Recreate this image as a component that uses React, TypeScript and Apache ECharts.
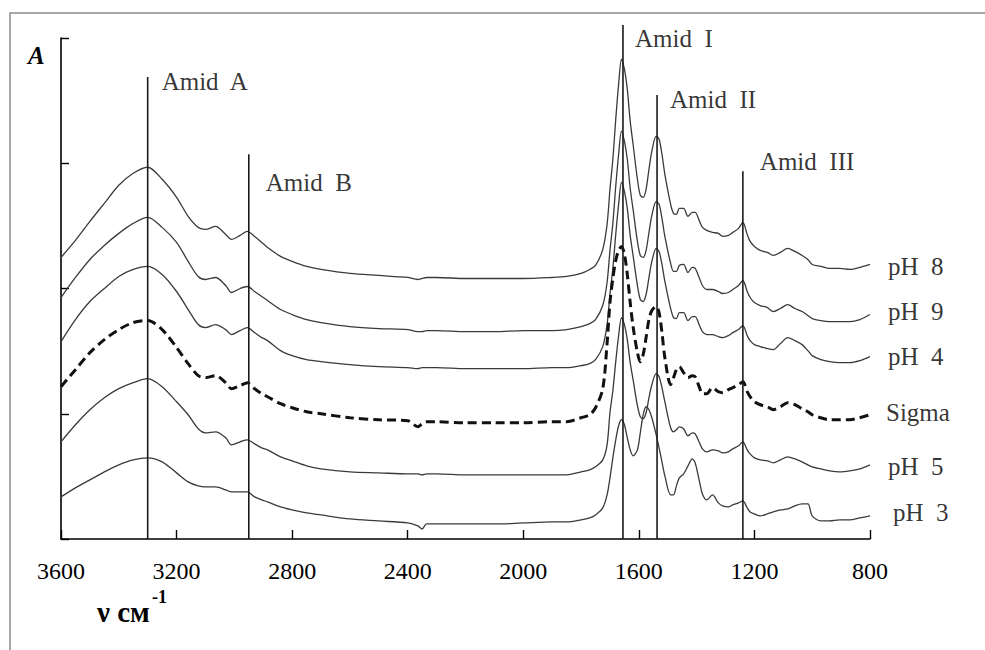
import React, { useEffect, useRef } from 'react';
import * as echarts from 'echarts';

// Wavenumber grid, cm-1
const wavenumbers = [
  3600, 3550, 3500, 3450, 3400, 3350, 3300, 3250, 3200, 3160,
  3125, 3100, 3065, 3030, 3010, 2980, 2955, 2930, 2905, 2885,
  2840, 2800, 2750, 2700, 2600, 2500, 2400, 2365, 2350, 2335,
  2300, 2200, 2100, 2000, 1900, 1850, 1800, 1770, 1750, 1725,
  1710, 1700, 1690, 1680, 1670, 1660, 1650, 1640, 1630, 1620,
  1605, 1595, 1585, 1575, 1565, 1555, 1540, 1530, 1520, 1510,
  1490, 1480, 1470, 1460, 1445, 1430, 1415, 1405, 1390, 1380,
  1365, 1345, 1325, 1310, 1290, 1275, 1255, 1240, 1225, 1215,
  1200, 1180, 1155, 1135, 1110, 1085, 1060, 1035, 1015, 1000,
  970, 940, 905, 870, 835, 800,
];

// Absorbance (arbitrary offset units) for each spectrum
const ph8 = [
  281, 298, 317, 335, 353, 365, 371, 359, 341, 322,
  311, 309, 312, 304, 299, 303, 307, 302, 296, 291,
  282, 277, 272, 269, 265, 263, 261, 259, 260, 261,
  261, 260, 260, 260, 261, 262, 265, 269, 273, 289,
  314, 349, 379, 419, 454, 479, 469, 449, 417, 394,
  359, 343, 341, 349, 369, 387, 402, 399, 384, 364,
  334, 325, 324, 330, 330, 322, 326, 326, 317, 311,
  308, 306, 305, 302, 303, 306, 310, 316, 304, 297,
  292, 288, 286, 283, 286, 290, 287, 283, 279, 274,
  272, 270, 270, 269, 271, 274,
];
const ph9 = [
  241, 261, 279, 293, 305, 315, 321, 311, 296, 277,
  262, 259, 261, 253, 246, 250, 252, 247, 242, 238,
  229, 224, 219, 216, 212, 210, 209, 207, 207, 208,
  208, 207, 207, 208, 208, 209, 212, 215, 219, 233,
  256, 288, 315, 352, 384, 407, 397, 379, 350, 329,
  297, 283, 281, 288, 306, 323, 337, 334, 320, 302,
  275, 267, 267, 273, 274, 266, 271, 270, 260, 253,
  249, 249, 247, 245, 246, 249, 253, 258, 247, 241,
  236, 233, 231, 227, 230, 234, 230, 227, 223, 220,
  218, 217, 217, 217, 219, 224,
];
const ph4 = [
  197, 219, 237, 250, 262, 269, 272, 264, 247, 229,
  214, 211, 214, 209, 204, 208, 211, 206, 201, 198,
  188, 183, 179, 177, 174, 172, 171, 170, 171, 171,
  171, 170, 170, 170, 171, 171, 173, 175, 179, 192,
  214, 244, 270, 304, 334, 356, 347, 330, 303, 283,
  253, 239, 237, 244, 261, 277, 290, 287, 274, 257,
  230, 221, 220, 226, 226, 218, 222, 222, 213, 207,
  204, 204, 202, 201, 203, 206, 209, 213, 203, 198,
  194, 192, 190, 189, 195, 201, 198, 194, 188, 183,
  179, 177, 176, 176, 178, 182,
];
const sigma = [
  152, 169, 186, 199, 209, 216, 218, 209, 191, 175,
  163, 161, 163, 156, 150, 153, 156, 150, 145, 142,
  135, 131, 127, 125, 121, 119, 118, 112, 115, 117,
  117, 116, 116, 116, 117, 117, 121, 124, 131, 150,
  195, 236, 260, 278, 288, 292, 284, 264, 236, 212,
  186, 177, 184, 201, 219, 228, 232, 226, 206, 181,
  154, 161, 169, 172, 166, 161, 163, 162, 151, 145,
  145, 151, 147, 146, 149, 151, 154, 157, 147, 142,
  137, 134, 132, 129, 132, 136, 134, 130, 127, 124,
  121, 119, 119, 119, 121, 124,
];
const ph5 = [
  97, 114, 129, 141, 150, 156, 160, 152, 137, 124,
  110, 106, 107, 101, 94, 97, 99, 95, 91, 89,
  82, 78, 73, 70, 67, 66, 65, 65, 64, 65,
  65, 64, 64, 64, 64, 64, 67, 69, 72, 79,
  94, 126, 148, 177, 203, 221, 214, 199, 176, 159,
  133, 122, 120, 126, 141, 154, 165, 162, 151, 137,
  111, 107, 109, 112, 110, 103, 106, 105, 96, 90,
  87, 89, 88, 86, 87, 90, 93, 97, 89, 85,
  81, 79, 78, 76, 79, 82, 80, 77, 74, 72,
  70, 68, 67, 68, 70, 74,
];
const ph3 = [
  42, 51, 59, 67, 74, 79, 81, 77, 66, 57,
  53, 52, 52, 49, 47, 47, 47, 42, 39, 37,
  32, 29, 26, 24, 20, 18, 16, 13, 10, 15,
  15, 15, 15, 16, 17, 17, 19, 21, 24, 31,
  44, 61, 81, 99, 113, 119, 114, 101, 89, 83,
  89, 106, 124, 132, 129, 121, 104, 91, 77, 63,
  44, 44, 53, 61, 65, 73, 80, 76, 57, 45,
  39, 44, 36, 33, 32, 34, 36, 38, 31, 27,
  25, 23, 25, 27, 29, 30, 33, 35, 35, 23,
  18, 18, 19, 19, 21, 23,
];

const spectrumNames = ['pH  8', 'pH  9', 'pH  4', 'Sigma', 'pH  5', 'pH  3'];
const spectrumValues = [ph8, ph9, ph4, sigma, ph5, ph3];

// Band markers
const markerNames = ['Amid  A', 'Amid  B', 'Amid  I', 'Amid  II', 'Amid  III'];
const markerWavenumbers = [3300, 2950, 1655, 1537, 1240];
const markerHeights = [461, 384, 513, 443, 367];

const xTicks = [3600, 3200, 2800, 2400, 2000, 1600, 1200, 800];

const FONT = "'Liberation Serif', 'Times New Roman', serif";

export default function App() {
  const ref = useRef<HTMLDivElement>(null);

  useEffect(() => {
    if (!ref.current) return;
    const chart = echarts.init(ref.current, null, { renderer: 'svg' });

    const markerLabelOffsets: [number, number][] = [
      [14, 4], [17, 28], [12, 14], [13, 4], [17, -10],
    ];
    const endLabelOffsets: [number, number][] = [
      [0, 2], [0, -3], [0, 0], [-2, -2], [0, 2], [5, -3],
    ];

    const spectra = spectrumNames.map((name, s) => ({
      type: 'line',
      name,
      data: wavenumbers.map((w, i) => [w, spectrumValues[s][i]]),
      symbol: 'none',
      showSymbol: false,
      smooth: 0.3,
      silent: true,
      z: 3,
      lineStyle:
        name === 'Sigma'
          ? { color: '#111', width: 3, type: [9, 5] }
          : { color: '#3a3a3a', width: 1.3 },
    }));

    const spectrumLabels = {
      type: 'scatter',
      data: spectrumNames.map((name, s) => {
        const vals = spectrumValues[s];
        return {
          value: [wavenumbers[wavenumbers.length - 1], vals[vals.length - 1]],
          label: {
            show: true,
            position: 'right',
            distance: 18,
            offset: endLabelOffsets[s],
            formatter: name,
            color: '#000',
            fontSize: 25,
            fontFamily: FONT,
          },
        };
      }),
      symbolSize: 0,
      clip: false,
      silent: true,
      z: 5,
    };

    const markers = markerNames.map((name, m) => ({
      type: 'line',
      name,
      data: [
        [markerWavenumbers[m], 0],
        [markerWavenumbers[m], markerHeights[m]],
      ],
      symbol: 'none',
      clip: false,
      silent: true,
      z: 4,
      lineStyle: { color: '#1a1a1a', width: 1.6 },
    }));

    const markerLabels = {
      type: 'scatter',
      data: markerNames.map((name, m) => ({
        value: [markerWavenumbers[m], markerHeights[m]],
        label: {
          show: true,
          position: 'right',
          distance: 0,
          offset: markerLabelOffsets[m],
          formatter: name,
          color: '#000',
          fontSize: 25,
          fontFamily: FONT,
        },
      })),
      symbolSize: 0,
      clip: false,
      silent: true,
      z: 5,
    };

    chart.setOption({
      animation: false,
      backgroundColor: '#ffffff',
      grid: { left: 61, right: 115, top: 38, bottom: 111, containLabel: false },
      xAxis: {
        type: 'value',
        min: 800,
        max: 3600,
        interval: 400,
        inverse: true,
        axisLine: { show: true, onZero: false, lineStyle: { color: '#000', width: 1.6 } },
        axisTick: { show: true, inside: true, length: 9, lineStyle: { color: '#000', width: 1.4 } },
        splitLine: { show: false },
        axisLabel: {
          show: true,
          margin: 20,
          color: '#000',
          fontSize: 24,
          fontFamily: FONT,
          showMinLabel: true,
          showMaxLabel: true,
          formatter: (v: number) => (xTicks.includes(v) ? String(v) : ''),
        },
      },
      yAxis: {
        type: 'value',
        min: 0,
        max: 500,
        interval: 125,
        axisLine: { show: true, onZero: false, lineStyle: { color: '#000', width: 1.6 } },
        axisTick: { show: true, inside: true, length: 8, lineStyle: { color: '#000', width: 1.4 } },
        axisLabel: { show: false },
        splitLine: { show: false },
      },
      graphic: [
        {
          type: 'rect',
          silent: true,
          shape: { x: 10, y: 13, width: 1000, height: 700 },
          style: { fill: 'none', stroke: '#8a8a8a', lineWidth: 1.5 },
          z: 0,
        },
        {
          type: 'text',
          silent: true,
          x: 28,
          y: 55,
          style: {
            text: 'A',
            fontFamily: FONT,
            fontSize: 25,
            fontWeight: 'bold',
            fontStyle: 'italic',
            fill: '#000',
            textVerticalAlign: 'middle',
          },
        },
        {
          type: 'text',
          silent: true,
          x: 97,
          y: 612,
          style: {
            text: 'ν см',
            fontFamily: FONT,
            fontSize: 29,
            fontWeight: 'bold',
            fill: '#000',
            textVerticalAlign: 'middle',
          },
        },
        {
          type: 'text',
          silent: true,
          x: 152,
          y: 597,
          style: {
            text: '-1',
            fontFamily: FONT,
            fontSize: 18,
            fontWeight: 'bold',
            fill: '#000',
            textVerticalAlign: 'middle',
          },
        },
      ],
      series: [...spectra, ...markers, spectrumLabels, markerLabels],
    });

    return () => chart.dispose();
  }, []);

  return (
    <div
      ref={ref}
      style={{ position: 'fixed', left: 0, top: 0, width: 985, height: 650, background: '#fff' }}
    />
  );
}
